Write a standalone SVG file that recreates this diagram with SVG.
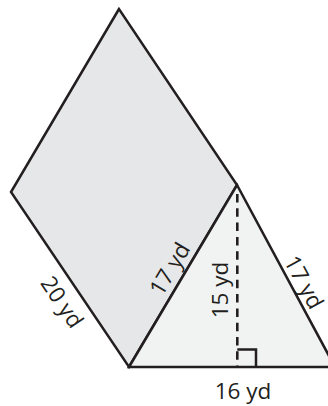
<svg xmlns="http://www.w3.org/2000/svg" width="328" height="406" viewBox="0 0 328 406">
<style>
.edge{stroke:#231f20;stroke-width:2.5;stroke-linejoin:miter;}
.lbl{font-family:"Open Sans","Liberation Sans",sans-serif;font-size:22.5px;fill:#231f20;text-anchor:middle;}
</style>
<rect width="328" height="406" fill="#ffffff"/>
<g id="parallelogram">
<polygon class="edge" points="119,9 11,192 129,367 237,185" fill="#e6e7e8"/>
</g>
<g id="triangle">
<polygon class="edge" points="129,367 237,185 335,367" fill="#f1f2f2"/>
</g>
<g id="connectors">
<line x1="237.3" y1="194" x2="237.3" y2="367" stroke="#231f20" stroke-width="2.6" stroke-dasharray="8.5 5.8"/>
<polyline points="237.3,349.5 256,349.5 256,367" fill="none" stroke="#231f20" stroke-width="2.5"/>
</g>
<g id="labels">
<text class="lbl" x="243" y="398.5">16 yd</text>
<text class="lbl" transform="translate(227.5,290) rotate(-90)">15 yd</text>
<text class="lbl" transform="translate(176.5,273) rotate(-59.3)">17 yd</text>
<text class="lbl" transform="translate(297,286) rotate(61.7)">17 yd</text>
<text class="lbl" transform="translate(55.5,306.5) rotate(56)">20 yd</text>
</g>
</svg>
